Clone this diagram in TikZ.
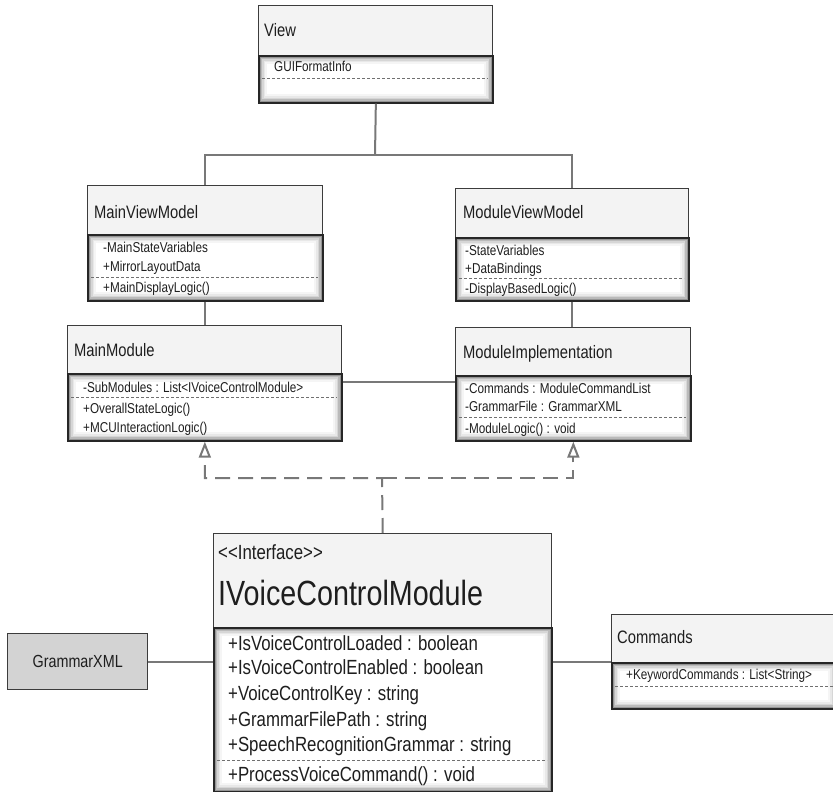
\documentclass[tikz,border=0pt]{standalone}
\usepackage{fontspec}
\setmainfont[FakeStretch=0.82]{Liberation Sans}
\usetikzlibrary{arrows.meta,calc}
\definecolor{hdrfill}{HTML}{F3F3F3}
\definecolor{hdrline}{HTML}{3C3C3C}
\definecolor{connc}{HTML}{787878}
\definecolor{txt}{HTML}{1E1E1E}
\definecolor{sepc}{HTML}{707070}
\definecolor{gxfill}{HTML}{D3D3D3}
\begin{document}
\begin{tikzpicture}[x=1pt,y=-1pt,
  hdr/.style={draw=hdrline, line width=1.4pt, fill=hdrfill, inner sep=0pt, anchor=north west},
  bodybox/.style={draw=black!85, line width=1.7pt, fill=white, inner sep=0pt, anchor=north west,
    path picture={
      \draw[line width=17pt, black!4] (path picture bounding box.north west) rectangle (path picture bounding box.south east);
      \draw[line width=13pt, black!9] (path picture bounding box.north west) rectangle (path picture bounding box.south east);
      \draw[line width=10pt, black!16] (path picture bounding box.north west) rectangle (path picture bounding box.south east);
      \draw[line width=7pt, black!27] (path picture bounding box.north west) rectangle (path picture bounding box.south east);
      \draw[line width=4.5pt, black!42] (path picture bounding box.north west) rectangle (path picture bounding box.south east);
      \draw[line width=2.5pt, black!60] (path picture bounding box.north west) rectangle (path picture bounding box.south east);
    }},
  ttl/.style={font=\fontsize{18}{20}\selectfont, text=txt, inner sep=0pt, anchor=base west},
  sm/.style={font=\fontsize{14.3}{16}\selectfont, text=txt, inner sep=0pt, anchor=base west},
  ivsm/.style={font=\fontsize{20.5}{22}\selectfont, text=txt, inner sep=0pt, anchor=base west},
  big/.style={font=\fontsize{35}{38}\selectfont, text=txt, inner sep=0pt, anchor=base west},
  sepl/.style={draw=sepc, line width=1pt, dash pattern=on 3pt off 2pt},
  conn/.style={draw=connc, line width=2pt},
  real/.style={draw=connc, line width=2pt, dash pattern=on 15pt off 8pt,
    -{Triangle[open, length=16pt, width=12pt, line width=2pt]}}
]
\useasboundingbox (0,0) rectangle (833,792);

% ---------- View
\node[hdr, minimum width=234pt, minimum height=50pt] (vh) at (258,5) {};
\node[bodybox, minimum width=234pt, minimum height=47pt] (vb) at (258,55) {};
\node[ttl] (vt) at (264,37) {View};
\node[sm] (v1) at (274,72) {GUIFormatInfo};
\draw[sepl] (262,79) -- (488,79);

% ---------- MainViewModel
\node[hdr, minimum width=235pt, minimum height=49pt] (mvmh) at (87,185) {};
\node[bodybox, minimum width=235pt, minimum height=66pt] (mvmb) at (87,234) {};
\node[ttl] (mvmt) at (94,218.5) {MainViewModel};
\node[sm] (mvm1) at (103,252) {-MainStateVariables};
\node[sm] (mvm2) at (103,271) {+MirrorLayoutData};
\draw[sepl] (91,277) -- (318,277);
\node[sm] (mvm3) at (103,292) {+MainDisplayLogic()};

% ---------- ModuleViewModel
\node[hdr, minimum width=233pt, minimum height=49pt] (modvmh) at (455,188) {};
\node[bodybox, minimum width=233pt, minimum height=63pt] (modvmb) at (455,237) {};
\node[ttl] (modvmt) at (463,218.5) {ModuleViewModel};
\node[sm] (modvm1) at (465,255) {-StateVariables};
\node[sm] (modvm2) at (465,273) {+DataBindings};
\draw[sepl] (459,278) -- (684,278);
\node[sm] (modvm3) at (465,293) {-DisplayBasedLogic()};

% ---------- MainModule
\node[hdr, minimum width=274pt, minimum height=48pt] (mmh) at (67,325) {};
\node[bodybox, minimum width=274pt, minimum height=67pt] (mmb) at (67,373) {};
\node[ttl] (mmt) at (74,356.5) {MainModule};
\node[sm] (mm1) at (83,392) {-SubModules : List<IVoiceControlModule>};
\draw[sepl] (71,397) -- (337,397);
\node[sm] (mm2) at (83,413) {+OverallStateLogic()};
\node[sm] (mm3) at (83,432) {+MCUInteractionLogic()};

% ---------- ModuleImplementation
\node[hdr, minimum width=235pt, minimum height=48pt] (mih) at (455,327) {};
\node[bodybox, minimum width=235pt, minimum height=65pt] (mib) at (455,375) {};
\node[ttl] (mit) at (463,358) {ModuleImplementation};
\node[sm] (mi1) at (465,393) {-Commands : ModuleCommandList};
\node[sm] (mi2) at (465,411) {-GrammarFile : GrammarXML};
\draw[sepl] (459,417) -- (686,417);
\node[sm] (mi3) at (465,433) {-ModuleLogic() : void};

% ---------- IVoiceControlModule
\node[hdr, minimum width=338pt, minimum height=94pt] (ivh) at (213,533) {};
\node[bodybox, minimum width=338pt, minimum height=164pt] (ivb) at (213,627) {};
\node[ivsm] (ivs) at (218,559) {<\kern0pt<Interface>\kern0pt>};
\node[big] (ivt) at (218,605) {IVoiceControlModule};
\node[ivsm] (iv1) at (228,650) {+IsVoiceControlLoaded : boolean};
\node[ivsm] (iv2) at (228,674) {+IsVoiceControlEnabled : boolean};
\node[ivsm] (iv3) at (228,700) {+VoiceControlKey : string};
\node[ivsm] (iv4) at (228,726) {+GrammarFilePath : string};
\node[ivsm] (iv5) at (228,751) {+SpeechRecognitionGrammar : string};
\draw[sepl] (217,760) -- (547,760);
\node[ivsm] (iv6) at (228,781) {+ProcessVoiceCommand() : void};

% ---------- GrammarXML
\node[draw=hdrline, line width=1.4pt, fill=gxfill, minimum width=140pt, minimum height=56pt,
      inner sep=0pt, anchor=north west, font=\fontsize{17.5}{20}\selectfont, text=txt] (gx) at (7,633) {GrammarXML};

% ---------- Commands
\node[hdr, minimum width=225pt, minimum height=48pt] (cmdh) at (611,614) {};
\node[bodybox, minimum width=225pt, minimum height=46pt] (cmdb) at (611,662) {};
\node[ttl] (cmdt) at (617,643.5) {Commands};
\node[sm] (cmd1) at (626,679) {+KeywordCommands : List<String>};
\draw[sepl] (615,686) -- (836,686);

% ---------- connectors
\coordinate (j1) at (375,155);
\draw[conn] (vb.south) -- (j1);
\draw[conn] (mvmh.north) |- (j1) -| (modvmh.north);
\draw[conn] (mvmb.south) -- (mvmb.south |- mmh.north);
\draw[conn] (modvmb.south) -- (modvmb.south |- mih.north);
\coordinate (y382) at (0,382);
\draw[conn] (mmb.east |- y382) -- (mib.west |- y382);
\coordinate (j2) at (382,478);
\draw[real] (ivh.north) -- (j2) -| (mmb.south);
\draw[real] (j2) -| (mib.south);
\draw[conn] (gx.east) -- (gx.east -| ivb.west);
\draw[conn] (gx.east -| ivb.east) -- (gx.east -| cmdh.west);
\end{tikzpicture}
\end{document}
